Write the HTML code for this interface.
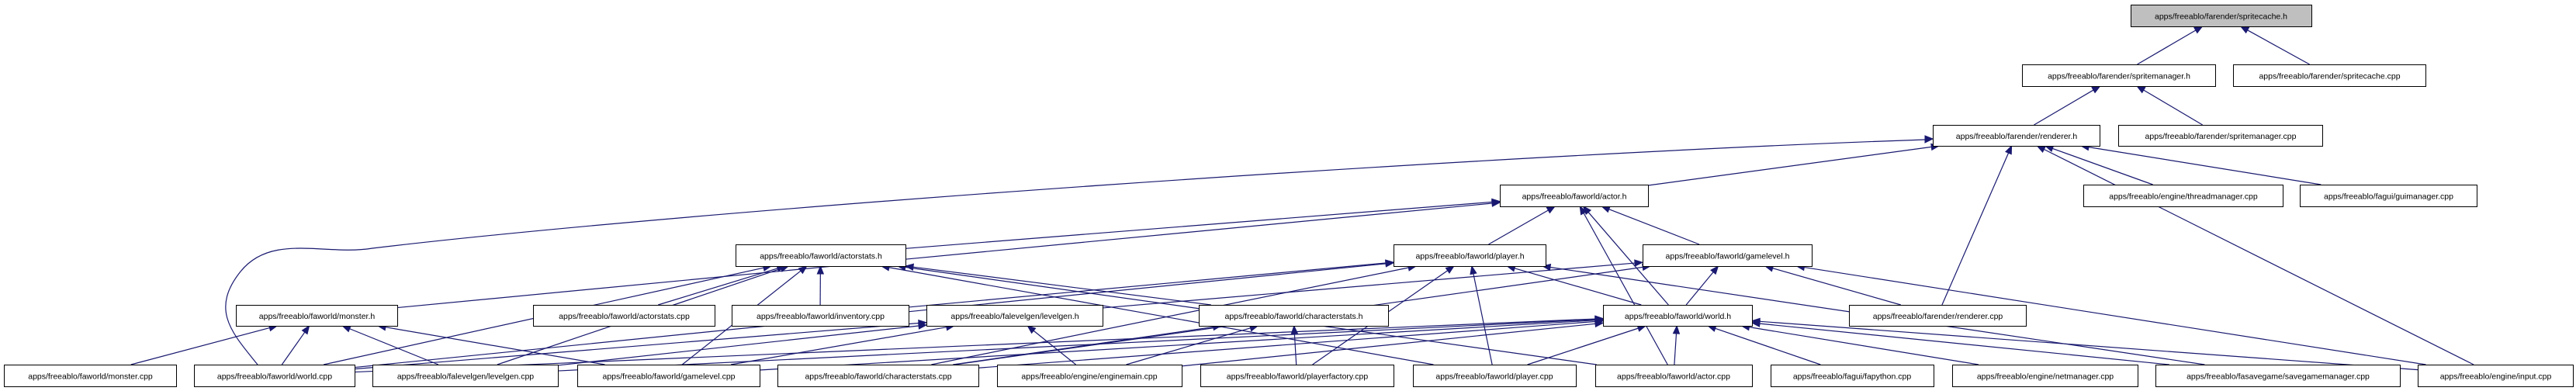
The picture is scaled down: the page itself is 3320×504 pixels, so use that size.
<!DOCTYPE html>
<html><head><meta charset="utf-8">
<style>
html,body{margin:0;padding:0;background:#fff;}
svg{display:block;}
text{font-family:"Liberation Sans",Arial,sans-serif;font-size:10.5px;fill:#000;}
rect{stroke:#000;stroke-width:1;}
</style></head>
<body>
<svg id="g" width="3320" height="504" viewBox="0 0 3320 504" xmlns="http://www.w3.org/2000/svg">
<g id="edges"></g>
<path d="M332,470 C300,430 270,400 310,350 C350,300 420,330 480,320 C900,270 1900,200 2481,180" fill="none" stroke="#191970" stroke-width="1.2"/>
<polygon points="2491,179 2481,175 2481,184" fill="#191970" stroke="#191970"/>
<g id="nodes" fill="#fff">
<rect x="2746.5" y="6.5" width="233" height="28" fill="#bfbfbf"/><text x="2862.5" y="24.5" text-anchor="middle">apps/freeablo/farender/spritecache.h</text>
<rect x="2606.5" y="83.5" width="249" height="28" fill="#fff"/><text x="2731" y="101.5" text-anchor="middle">apps/freeablo/farender/spritemanager.h</text>
<rect x="2878.5" y="83.5" width="248" height="28" fill="#fff"/><text x="3002.5" y="101.5" text-anchor="middle">apps/freeablo/farender/spritecache.cpp</text>
<rect x="2491.5" y="161.5" width="215" height="27" fill="#fff"/><text x="2599" y="179" text-anchor="middle">apps/freeablo/farender/renderer.h</text>
<rect x="2730.5" y="161.5" width="263" height="27" fill="#fff"/><text x="2862" y="179" text-anchor="middle">apps/freeablo/farender/spritemanager.cpp</text>
<rect x="1933.5" y="238.5" width="191" height="28" fill="#fff"/><text x="2029" y="256.5" text-anchor="middle">apps/freeablo/faworld/actor.h</text>
<rect x="2685.5" y="238.5" width="257" height="28" fill="#fff"/><text x="2814" y="256.5" text-anchor="middle">apps/freeablo/engine/threadmanager.cpp</text>
<rect x="2964.5" y="238.5" width="228" height="28" fill="#fff"/><text x="3078.5" y="256.5" text-anchor="middle">apps/freeablo/fagui/guimanager.cpp</text>
<rect x="948.5" y="315.5" width="219" height="28" fill="#fff"/><text x="1058" y="333.5" text-anchor="middle">apps/freeablo/faworld/actorstats.h</text>
<rect x="1796.5" y="315.5" width="196" height="28" fill="#fff"/><text x="1894.5" y="333.5" text-anchor="middle">apps/freeablo/faworld/player.h</text>
<rect x="2117.5" y="315.5" width="218" height="28" fill="#fff"/><text x="2226.5" y="333.5" text-anchor="middle">apps/freeablo/faworld/gamelevel.h</text>
<rect x="304.5" y="393.5" width="208" height="27" fill="#fff"/><text x="408.5" y="411" text-anchor="middle">apps/freeablo/faworld/monster.h</text>
<rect x="687.5" y="393.5" width="234" height="27" fill="#fff"/><text x="804.5" y="411" text-anchor="middle">apps/freeablo/faworld/actorstats.cpp</text>
<rect x="943.5" y="393.5" width="228" height="27" fill="#fff"/><text x="1057.5" y="411" text-anchor="middle">apps/freeablo/faworld/inventory.cpp</text>
<rect x="1194.5" y="393.5" width="227" height="27" fill="#fff"/><text x="1308" y="411" text-anchor="middle">apps/freeablo/falevelgen/levelgen.h</text>
<rect x="1545.5" y="393.5" width="244" height="27" fill="#fff"/><text x="1667.5" y="411" text-anchor="middle">apps/freeablo/faworld/characterstats.h</text>
<rect x="2066.5" y="393.5" width="192" height="27" fill="#fff"/><text x="2162.5" y="411" text-anchor="middle">apps/freeablo/faworld/world.h</text>
<rect x="2383.5" y="393.5" width="228" height="27" fill="#fff"/><text x="2497.5" y="411" text-anchor="middle">apps/freeablo/farender/renderer.cpp</text>
<rect x="5.5" y="470.5" width="222" height="28" fill="#fff"/><text x="116.5" y="488.5" text-anchor="middle">apps/freeablo/faworld/monster.cpp</text>
<rect x="250.5" y="470.5" width="207" height="28" fill="#fff"/><text x="354" y="488.5" text-anchor="middle">apps/freeablo/faworld/world.cpp</text>
<rect x="480.5" y="470.5" width="239" height="28" fill="#fff"/><text x="600" y="488.5" text-anchor="middle">apps/freeablo/falevelgen/levelgen.cpp</text>
<rect x="744.5" y="470.5" width="235" height="28" fill="#fff"/><text x="862" y="488.5" text-anchor="middle">apps/freeablo/faworld/gamelevel.cpp</text>
<rect x="1002.5" y="470.5" width="259" height="28" fill="#fff"/><text x="1132" y="488.5" text-anchor="middle">apps/freeablo/faworld/characterstats.cpp</text>
<rect x="1285.5" y="470.5" width="238" height="28" fill="#fff"/><text x="1404" y="488.5" text-anchor="middle">apps/freeablo/engine/enginemain.cpp</text>
<rect x="1547.5" y="470.5" width="249" height="28" fill="#fff"/><text x="1672" y="488.5" text-anchor="middle">apps/freeablo/faworld/playerfactory.cpp</text>
<rect x="1821.5" y="470.5" width="210" height="28" fill="#fff"/><text x="1926" y="488.5" text-anchor="middle">apps/freeablo/faworld/player.cpp</text>
<rect x="2056.5" y="470.5" width="202" height="28" fill="#fff"/><text x="2157" y="488.5" text-anchor="middle">apps/freeablo/faworld/actor.cpp</text>
<rect x="2282.5" y="470.5" width="210" height="28" fill="#fff"/><text x="2387" y="488.5" text-anchor="middle">apps/freeablo/fagui/fapython.cpp</text>
<rect x="2516.5" y="470.5" width="239" height="28" fill="#fff"/><text x="2636" y="488.5" text-anchor="middle">apps/freeablo/engine/netmanager.cpp</text>
<rect x="2778.5" y="470.5" width="315" height="28" fill="#fff"/><text x="2936" y="488.5" text-anchor="middle">apps/freeablo/fasavegame/savegamemanager.cpp</text>
<rect x="3116.5" y="470.5" width="200" height="28" fill="#fff"/><text x="3216.5" y="488.5" text-anchor="middle">apps/freeablo/engine/input.cpp</text>
</g>
</svg>
<script>
var N={
sc:[2746,2979,6,34],smh:[2606,2855,83,111],scc:[2878,3126,83,111],
rh:[2491,2706,161,188],smc:[2730,2993,161,188],
ah:[1933,2124,238,266],tm:[2685,2942,238,266],gm:[2964,3192,238,266],
ash:[948,1167,315,343],ph:[1796,1992,315,343],glh:[2117,2335,315,343],
mh:[304,512,393,420],asc:[687,921,393,420],inv:[943,1171,393,420],lgh:[1194,1421,393,420],csh:[1545,1789,393,420],wh:[2066,2258,393,420],rc:[2383,2611,393,420],
mc:[5,227,470,498],wc:[250,457,470,498],lgc:[480,719,470,498],glc:[744,979,470,498],csc:[1002,1261,470,498],em:[1285,1523,470,498],pf:[1547,1796,470,498],pc:[1821,2031,470,498],ac:[2056,2258,470,498],fp:[2282,2492,470,498],nm:[2516,2755,470,498],sg:[2778,3093,470,498],inp:[3116,3316,470,498]};
var E=[["smh","sc"],["scc","sc"],["rh","smh"],["smc","smh"],
["ah","rh"],["rc","rh"],["inp","rh"],["tm","rh"],["gm","rh"],
["mh","ah"],["ash","ah"],["ph","ah"],["glh","ah"],["wh","ah"],["ac","ah"],
["asc","ash"],["inv","ash"],["csh","ash"],["wc","ash"],["lgc","ash"],["glc","ash"],["pc","ash"],["ac","ash"],
["inv","ph"],["csc","ph"],["wh","ph"],["pf","ph"],["pc","ph"],["wc","ph"],["sg","ph"],
["lgh","glh"],["csc","glh"],["wh","glh"],["rc","glh"],["inp","glh"],
["wc","wh"],["lgc","wh"],["glc","wh"],["csc","wh"],["em","wh"],["pc","wh"],["ac","wh"],["fp","wh"],["nm","wh"],["sg","wh"],["inp","wh"],
["wc","lgh"],["lgc","lgh"],["glc","lgh"],["em","lgh"],
["csc","csh"],["em","csh"],["pf","csh"],
["mc","mh"],["wc","mh"],["lgc","mh"],["glc","mh"]];
function clip(b,cx,cy,dx,dy){var hw=(b[1]-b[0])/2,hh=(b[3]-b[2])/2;var t=Math.min(dx?hw/Math.abs(dx):1e9,dy?hh/Math.abs(dy):1e9);return [cx+dx*t,cy+dy*t];}
var s="";
E.forEach(function(e){var a=N[e[0]],b=N[e[1]];
var ax=(a[0]+a[1])/2,ay=(a[2]+a[3])/2,bx=(b[0]+b[1])/2,by=(b[2]+b[3])/2;
var dx=bx-ax,dy=by-ay;
var p=clip(a,ax,ay,dx,dy),q=clip(b,bx,by,-dx,-dy);
var L=Math.hypot(q[0]-p[0],q[1]-p[1]),ux=(q[0]-p[0])/L,uy=(q[1]-p[1])/L;
var ex=q[0]-ux*10,ey=q[1]-uy*10;
s+='<line x1="'+p[0]+'" y1="'+p[1]+'" x2="'+ex+'" y2="'+ey+'" stroke="#191970" stroke-width="1.2"/>';
s+='<polygon points="'+q[0]+','+q[1]+' '+(ex-uy*4)+','+(ey+ux*4)+' '+(ex+uy*4)+','+(ey-ux*4)+'" fill="#191970" stroke="#191970"/>';});
document.getElementById("edges").innerHTML=s;
</script>
</body></html>
